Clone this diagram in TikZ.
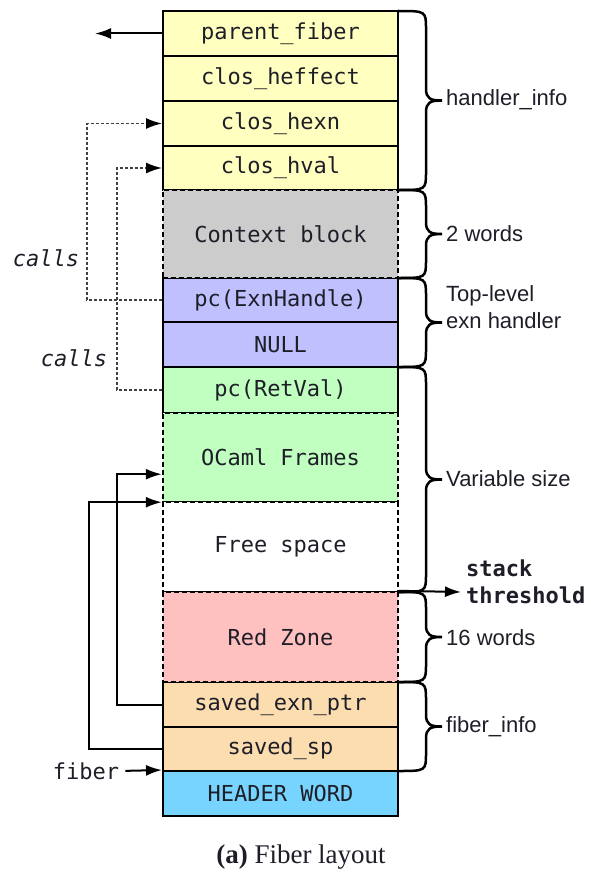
\documentclass[tikz,border=0pt]{standalone}
\usepackage{fontspec}
\newfontfamily\monof{DejaVu Sans Mono}
\newfontfamily\sansf{Liberation Sans}
\newfontfamily\capf{Liberation Serif}
\usetikzlibrary{arrows.meta,calc}
\definecolor{ylw}{RGB}{255,255,192}
\definecolor{gry}{RGB}{204,204,204}
\definecolor{pur}{RGB}{192,192,255}
\definecolor{grn}{RGB}{192,255,192}
\definecolor{rzc}{RGB}{255,192,192}
\definecolor{org}{RGB}{251,221,176}
\definecolor{blu}{RGB}{118,212,255}
\definecolor{txt}{RGB}{30,30,40}
\newcommand\fbrace[2]{%
 \pgfmathsetmacro\ya{#1}\pgfmathsetmacro\yb{#2}%
 \pgfmathsetmacro\ym{(#1+#2)/2}%
 \draw[brc] (398,\ya) .. controls (426,\ya) .. (426,\ya+18) -- (426,\ym-12)
   .. controls (426,\ym-2) and (430,\ym) .. (442,\ym)
   .. controls (430,\ym) and (426,\ym+2) .. (426,\ym+12) -- (426,\yb-18)
   .. controls (426,\yb) .. (398,\yb);}
\begin{document}
\begin{tikzpicture}[x=1pt,y=-1pt,
 cell/.style={draw=black, line width=2pt, minimum width=235pt, inner sep=0pt,
   font=\monof\fontsize{22}{26}\selectfont, text=txt},
 dcell/.style={cell, line width=2.4pt, dash pattern=on 5pt off 3pt},
 brc/.style={line width=2.5pt, black},
 lbl/.style={font=\sansf\fontsize{22}{26}\selectfont, text=txt, anchor=west, inner sep=0pt, align=left},
 solc/.style={line width=2pt, -{Latex[length=16pt,width=11pt]}},
 dotc/.style={line width=1.7pt, black!75, dash pattern=on 3pt off 2pt, -{Latex[length=16pt,width=11pt,color=black]}},
 mlbl/.style={font=\monof\fontsize{22}{26}\selectfont, text=txt, inner sep=0pt}]
\fill[white] (0,0) rectangle (590,875);
\useasboundingbox (0,0) rectangle (590,875);
% solid cells
\node[cell, fill=ylw, minimum height=45pt] (pf) at (280.5,33.5) {parent\_fiber};
\node[cell, fill=ylw, minimum height=45pt] (he) at (280.5,78.5) {clos\_heffect};
\node[cell, fill=ylw, minimum height=45pt] (hx) at (280.5,123.5) {clos\_hexn};
\node[cell, fill=ylw, minimum height=44pt] (hv) at (280.5,168) {clos\_hval};
\node[cell, fill=pur, minimum height=44pt] (pe) at (280.5,300) {pc(ExnHandle)};
\node[cell, fill=pur, minimum height=45pt] (nu) at (280.5,344.5) {NULL};
\node[cell, fill=grn, minimum height=46pt] (rv) at (280.5,390) {pc(RetVal)};
\node[cell, fill=org, minimum height=45pt] (se) at (280.5,704.5) {saved\_exn\_ptr};
\node[cell, fill=org, minimum height=44pt] (ss) at (280.5,749) {saved\_sp};
\node[cell, fill=blu, minimum height=45pt] (hw) at (280.5,793.5) {HEADER WORD};
% dashed cells
\node[dcell, fill=gry, minimum height=88pt] (cb) at (280.5,234) {Context block};
\node[dcell, fill=grn, minimum height=89pt] (of) at (280.5,457.5) {OCaml Frames};
\node[dcell, fill=white, minimum height=90pt] (fs) at (280.5,547) {Free space};
\node[dcell, fill=rzc, minimum height=90pt] (rz) at (280.5,637) {Red Zone};
% braces
\fbrace{11}{190}
\fbrace{190}{278}
\fbrace{278}{367}
\fbrace{367}{592}
\fbrace{592}{682}
\fbrace{682}{771}
\node[lbl] (lhi) at (446,100) {handler\_info};
\node[lbl] (l2w) at (446,234) {2 words};
\node[lbl, anchor=south west] (ltl) at (446,306) {Top-level};
\node[lbl] (lex) at (446,321) {exn handler};
\node[lbl] (lvs) at (446,479) {Variable size};
\node[lbl] (l16) at (446,638) {16 words};
\node[lbl] (lfi) at (446,727) {fiber\_info};
% stack threshold
\coordinate (thr) at (461,592);
\draw[solc] (rz.north east) -- (thr);
\node[font=\monof\bfseries\fontsize{22}{27}\selectfont, text=txt, anchor=west, align=left, inner sep=0pt] (st) at (466,582) {stack\\threshold};
% parent fiber arrow
\coordinate (pfend) at (95,33.5);
\draw[solc] (pf.west) -- (pfend);
% calls connectors
\draw[dotc] (pe.west) -- ++(-75,0) |- (hx.west);
\draw[dotc] (rv.west) -- ++(-45,0) |- (hv.west);
\node[mlbl, font=\monof\itshape\fontsize{22}{26}\selectfont] (c1) at (46,258) {calls};
\node[mlbl, font=\monof\itshape\fontsize{22}{26}\selectfont] (c2) at (74,358) {calls};
% saved pointers
\draw[solc] (se.west) -- ++(-45,0) |- ($(of.south west)+(0,-29)$);
\draw[solc] (ss.west) -- ++(-73,0) |- ($(of.south west)+(0,-1)$);
% fiber
\node[mlbl] (fib) at (86,771) {fiber};
\draw[solc, shorten <=6pt] (fib.east) -- (hw.north west);
% caption
\node[font=\capf\fontsize{27}{30}\selectfont, text=txt] (cap) at (301,857) {\textbf{(a)} Fiber layout};
\end{tikzpicture}
\end{document}
